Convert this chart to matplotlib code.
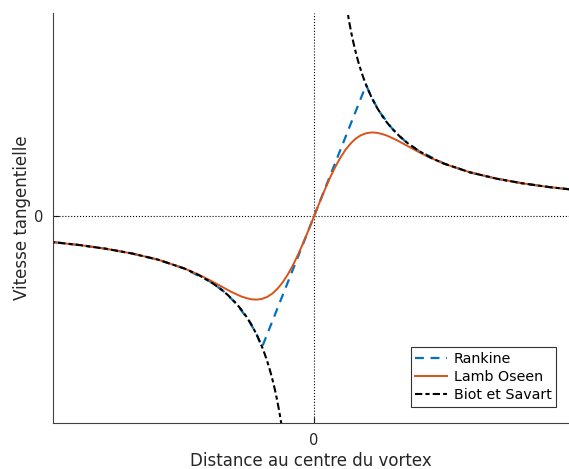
import numpy as np
import matplotlib.pyplot as plt

# distance au centre (en rayons de coeur) et vitesses (en vitesse max Rankine), r >= 0
r_rankine = [0.0, 1.0, 1.1, 1.25, 1.5, 1.75, 2.0, 2.5, 3.0, 3.5, 4.0, 4.5, 5.0]
v_rankine = [0.0, 1.0, 0.909, 0.800, 0.667, 0.571, 0.500, 0.400, 0.333, 0.286, 0.250,
             0.222, 0.200]

r_lamb = [0.0, 0.1, 0.2, 0.3, 0.4, 0.5, 0.6, 0.7, 0.8, 0.9, 1.0, 1.1, 1.2, 1.3, 1.4,
          1.5, 1.6, 1.8, 2.0, 2.2, 2.5, 3.0, 3.5, 4.0, 4.5, 5.0]
v_lamb = [0.0, 0.0995, 0.196, 0.287, 0.370, 0.442, 0.504, 0.553, 0.591, 0.617, 0.632,
          0.638, 0.636, 0.627, 0.614, 0.596, 0.577, 0.534, 0.491, 0.451, 0.399, 0.333,
          0.286, 0.250, 0.222, 0.200]

r_biot = [0.62, 0.64, 0.66, 0.68, 0.70, 0.72, 0.75, 0.78, 0.81, 0.85, 0.9, 0.95, 1.0,
          1.1, 1.2, 1.3, 1.4, 1.5, 1.65, 1.8, 2.0, 2.25, 2.5, 3.0, 3.5, 4.0, 4.5, 5.0]
v_biot = [1.613, 1.563, 1.515, 1.471, 1.429, 1.389, 1.333, 1.282, 1.235, 1.176, 1.111,
          1.053, 1.000, 0.909, 0.833, 0.769, 0.714, 0.667, 0.606, 0.556, 0.500, 0.444,
          0.400, 0.333, 0.286, 0.250, 0.222, 0.200]


def symetrise(r, v):
    r = np.asarray(r)
    v = np.asarray(v)
    return np.concatenate([-r[::-1], r]), np.concatenate([-v[::-1], v])


fig = plt.figure(figsize=(5.69, 4.69), dpi=100)
ax = fig.add_axes([53 / 569, 46 / 469, 1 - 53 / 569, 410 / 469])

ax.axhline(0, color='k', ls=':', lw=0.8)
ax.axvline(0, color='k', ls=':', lw=0.8)

x, y = symetrise(r_rankine, v_rankine)
ax.plot(x, y, color='#0072BD', ls=(0, (4, 3)), lw=1.6, label='Rankine')
x, y = symetrise(r_lamb, v_lamb)
ax.plot(x, y, color='#D95319', lw=1.4, label='Lamb Oseen')
# Biot et Savart : deux branches séparées (divergence en 0)
rb = np.asarray(r_biot)
vb = np.asarray(v_biot)
style_bs = (0, (3.5, 1.5, 2, 1.5))
ax.plot(-rb, -vb, color='k', ls=style_bs, lw=1.5, label='Biot et Savart')
ax.plot(rb, vb, color='k', ls=style_bs, lw=1.5)

ax.set_xlim(-5.02, 4.9)
ax.set_ylim(-1.58, 1.55)
ax.set_xticks([0])
ax.set_yticks([0])
ax.tick_params(direction='in', length=4, labelsize=10.5, colors='0.15', pad=7)
for s in ['top', 'right']:
    ax.spines[s].set_visible(False)
for s in ['left', 'bottom']:
    ax.spines[s].set_color('0.25')

ax.set_xlabel('Distance au centre du vortex', fontsize=12, color='0.15', labelpad=3)
ax.set_ylabel('Vitesse tangentielle', fontsize=12, color='0.15', labelpad=2)

leg = ax.legend(loc='lower right', fontsize=10.3, fancybox=False, framealpha=1,
                edgecolor='0.2', handlelength=2.2, handletextpad=0.5,
                borderpad=0.3, labelspacing=0.3, borderaxespad=0,
                bbox_to_anchor=(0.975, 0.04))
leg.get_frame().set_linewidth(0.8)

fig.savefig('out.png', dpi=100)
